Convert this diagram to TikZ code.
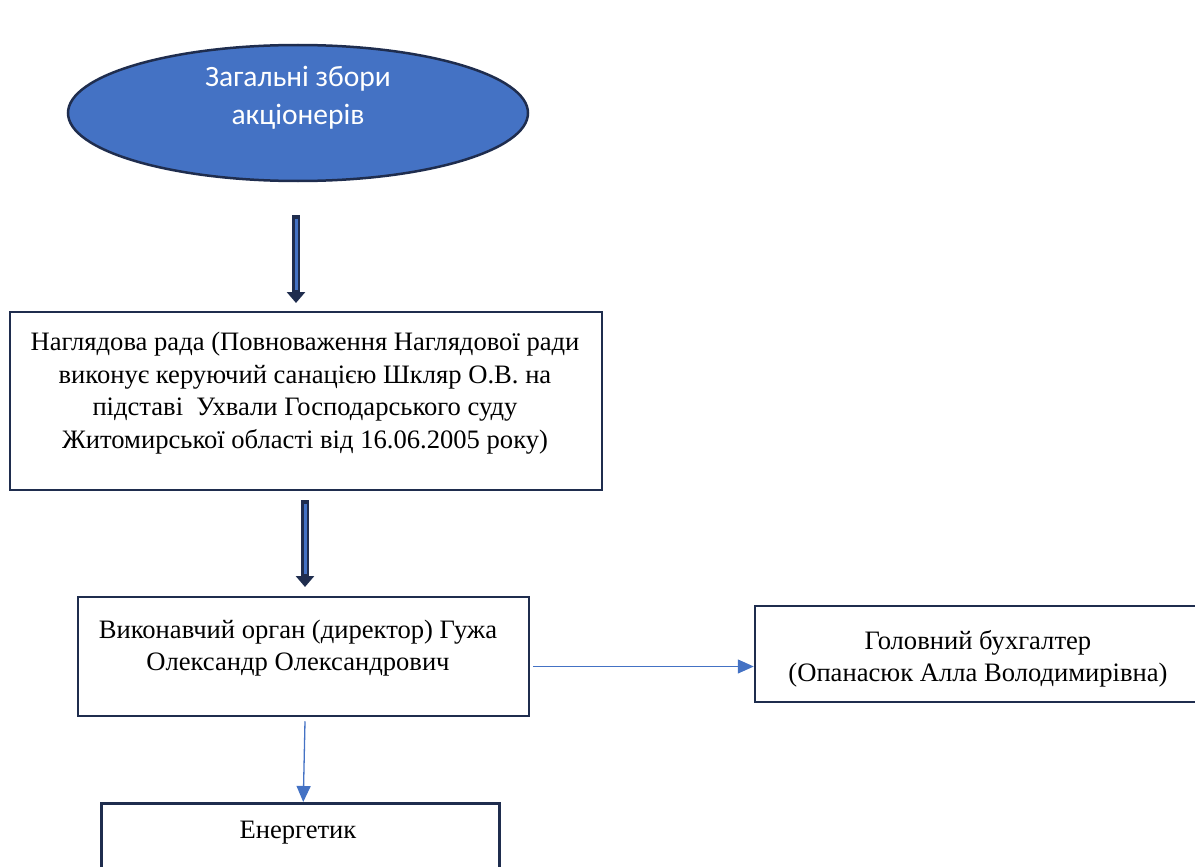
\documentclass[tikz,border=0pt]{standalone}
\usepackage{fontspec}
\setmainfont{Liberation Serif}
\newfontfamily\calibri{Carlito}
\usetikzlibrary{shapes.geometric,arrows.meta,calc}
\definecolor{accblue}{HTML}{4472C4}
\definecolor{boxline}{HTML}{1F2D4E}
\tikzset{
  box/.style={draw=boxline, line width=2.5, rectangle, inner sep=0},
  txt/.style={font=\fontsize{26.6}{32.5}\selectfont, align=center, inner sep=0, text=black},
  fatarrow/.style={draw=boxline, line width=8, -{Triangle[width=18pt,length=11pt]}},
  fatinner/.style={draw=accblue, line width=3},
  thinarrow/.style={draw=accblue, line width=1.3, -{Triangle[width=14pt,length=16pt]}}
}
\begin{document}
\begin{tikzpicture}[x=1pt,y=-1pt]
\useasboundingbox (0,0) rectangle (1195,867);
\clip (0,0) rectangle (1195,867);
% ellipse
\node[ellipse, draw=boxline, line width=2.5, fill=accblue, minimum width=460, minimum height=136, inner sep=0] (ell) at (298,113) {};
\node[font=\calibri\fontsize{29.5}{38}\selectfont, text=white, align=center, inner sep=0] (ellt) at (298,98) {Загальні збори\\акціонерів};
% box 1
\node[box, minimum width=592, minimum height=178] (b1) at (306,401) {};
\node[txt] (b1t) at (305,393) {Наглядова рада (Повноваження Наглядової ради\\виконує керуючий санацією Шкляр О.В. на\\підставі\ \ Ухвали Господарського суду\\Житомирської області від 16.06.2005 року)};
% box 2
\node[box, minimum width=451, minimum height=119] (b2) at (303.5,656.5) {};
\node[txt] (b2t) at (298,648) {Виконавчий орган (директор) Гужа\\Олександр Олександрович};
% box 3
\node[box, minimum width=460, minimum height=96] (b3) at (985,654) {};
\node[txt] (b3t) at (978,659) {Головний бухгалтер\\(Опанасюк Алла Володимирівна)};
% box 4
\node[box, minimum width=398, minimum height=100, anchor=north west] (b4) at (100,802) {};
\node[txt] (b4t) at (298,833) {Енергетик};
% fat arrows
\coordinate (a1s) at (296,215);
\coordinate (a1e) at (296,303);
\draw[fatarrow] (a1s) -- (a1e);
\draw[fatinner] (296,219) -- (296,290);
\coordinate (a2s) at (305,500);
\coordinate (a2e) at (305,587);
\draw[fatarrow] (a2s) -- (a2e);
\draw[fatinner] (305,504) -- (305,574);
% thin arrows
\coordinate (h1) at ([yshift=-10]b2.east);
\draw[thinarrow] ([xshift=3]h1) -- (h1 -| b3.west);
\draw[thinarrow] ([xshift=1.5]b2.south) ++(0,4) -- ([xshift=3]b4.north);
\end{tikzpicture}
\end{document}
